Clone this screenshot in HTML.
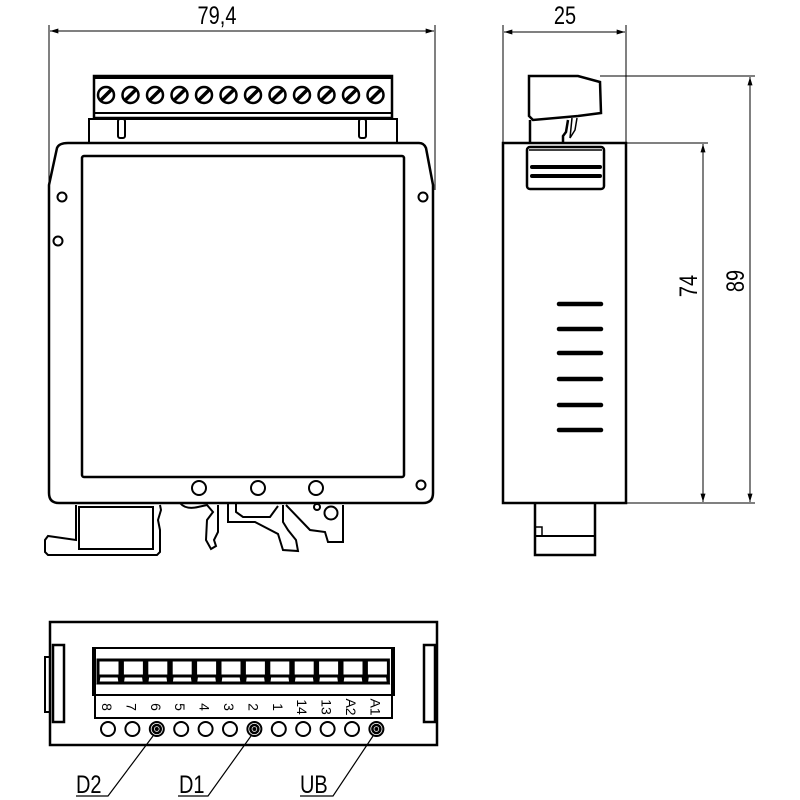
<!DOCTYPE html>
<html><head><style>html,body{margin:0;padding:0;background:#fff}svg{display:block}</style></head>
<body>
<svg width="800" height="800" viewBox="0 0 800 800" xmlns="http://www.w3.org/2000/svg" font-family="Liberation Sans, sans-serif">
<defs>
<marker id="ar" viewBox="0 0 10 6" refX="10" refY="3" markerWidth="12" markerHeight="5" orient="auto-start-reverse" markerUnits="userSpaceOnUse"><path d="M0,0 L10,3 L0,6 z" fill="#000"/></marker>
</defs>
<g fill="none" stroke="#000">
<line x1="49" y1="25" x2="49" y2="190" stroke-width="1"/>
<line x1="435" y1="25" x2="435" y2="190" stroke-width="1"/>
<line x1="50" y1="31" x2="434" y2="31" stroke-width="1" marker-start="url(#ar)" marker-end="url(#ar)"/>
<line x1="503" y1="25" x2="503" y2="143" stroke-width="1"/>
<line x1="626" y1="25" x2="626" y2="143" stroke-width="1"/>
<line x1="504" y1="32" x2="625" y2="32" stroke-width="1" marker-start="url(#ar)" marker-end="url(#ar)"/>
<line x1="600" y1="76" x2="755" y2="76" stroke-width="1"/>
<line x1="626" y1="143" x2="708" y2="143" stroke-width="1"/>
<line x1="626" y1="503" x2="755" y2="503" stroke-width="1"/>
<line x1="750" y1="77" x2="750" y2="502" stroke-width="1" marker-start="url(#ar)" marker-end="url(#ar)"/>
<line x1="703" y1="144" x2="703" y2="502" stroke-width="1" marker-start="url(#ar)" marker-end="url(#ar)"/>

<rect x="94" y="76" width="298" height="42" stroke-width="2.5"/>
<line x1="94" y1="77" x2="392" y2="77" stroke-width="4"/>
<line x1="94" y1="113" x2="392" y2="113" stroke-width="2"/>
<rect x="89" y="119" width="308" height="24" stroke-width="2"/>
<rect x="118" y="119" width="7" height="19" rx="2" stroke-width="2"/>
<rect x="359" y="119" width="7" height="19" rx="2" stroke-width="2"/>
<g stroke-width="2.5">
<circle cx="106" cy="95" r="8"/><circle cx="130.5" cy="95" r="8"/><circle cx="155" cy="95" r="8"/><circle cx="179.5" cy="95" r="8"/><circle cx="204" cy="95" r="8"/><circle cx="228.5" cy="95" r="8"/><circle cx="253" cy="95" r="8"/><circle cx="277.5" cy="95" r="8"/><circle cx="302" cy="95" r="8"/><circle cx="326.5" cy="95" r="8"/><circle cx="351" cy="95" r="8"/><circle cx="375.5" cy="95" r="8"/>
</g>
<g stroke-width="3.5">
<line x1="100" y1="101" x2="112" y2="89"/><line x1="124.5" y1="101" x2="136.5" y2="89"/><line x1="149" y1="101" x2="161" y2="89"/><line x1="173.5" y1="101" x2="185.5" y2="89"/><line x1="198" y1="101" x2="210" y2="89"/><line x1="222.5" y1="101" x2="234.5" y2="89"/><line x1="247" y1="101" x2="259" y2="89"/><line x1="271.5" y1="101" x2="283.5" y2="89"/><line x1="296" y1="101" x2="308" y2="89"/><line x1="320.5" y1="101" x2="332.5" y2="89"/><line x1="345" y1="101" x2="357" y2="89"/><line x1="369.5" y1="101" x2="381.5" y2="89"/>
</g>
<path d="M68,143 L419,143 Q424,143 426,148 L433,185 L433,493 Q433,503 423,503 L59,503 Q49,503 49,493 L49,185 L57,148 Q59,143 68,143 Z" stroke-width="2.5"/>
<rect x="82" y="156" width="322" height="321" rx="2" stroke-width="2.5"/>
<g stroke-width="2">
<circle cx="62" cy="197" r="4.5"/><circle cx="58" cy="241" r="4.5"/><circle cx="423" cy="197" r="4.5"/><circle cx="421" cy="485" r="4.5"/>
<circle cx="199" cy="488" r="7"/><circle cx="258" cy="488" r="7"/><circle cx="316" cy="488" r="7"/>
</g>
<g stroke-width="2">
<path d="M76,505 L76,540 L48,536 L45,540 L45,552 L48,555 L157,555 L160,552 L160,530 L158,520 L161,510 L160,505"/>
<rect x="79" y="507" width="74" height="42"/>
<path d="M180,503 Q186,510 198,507 L207,505 L213,512 L207,520 L206,540 L211,549 L216,546 L214,540 L218,532 L218,505"/>
<path d="M228,504 L228,522 L255,522 L278,534 L283,550 L298,551 L296,540 L288,530 L283,522 L283,505"/>
<path d="M236,504 L236,512 L243,517 L270,517 L278,506"/>
<path d="M286,505 L310,530 L325,532 L328,542 L343,542 L343,505"/>
<circle cx="331" cy="513" r="6.5"/><circle cx="317" cy="507" r="3"/>
</g>

<rect x="503" y="143" width="123" height="360" stroke-width="2.5"/>
<path d="M529,76 L578,76 L600,82 L601,113 L578,116 L533,120 L529,116 Z" stroke-width="2.5"/>
<path d="M530,120 L530,143 M568,120 L566,132 L563,136 L563,143" stroke-width="2.5"/>
<path d="M572,118 L570,138 L575,130 L577,118" stroke-width="1.5"/>
<rect x="527" y="147" width="77" height="42" rx="3" stroke-width="2.5"/>
<line x1="529" y1="150" x2="602" y2="150" stroke-width="1.5"/>
<line x1="532" y1="167" x2="600" y2="167" stroke-width="4" stroke-linecap="round"/>
<line x1="532" y1="176" x2="600" y2="176" stroke-width="4" stroke-linecap="round"/>
<g stroke-width="4.5" stroke-linecap="round">
<line x1="559" y1="304" x2="601" y2="304"/><line x1="559" y1="329" x2="601" y2="329"/><line x1="559" y1="353" x2="601" y2="353"/><line x1="559" y1="379" x2="601" y2="379"/><line x1="559" y1="405" x2="601" y2="405"/><line x1="559" y1="430" x2="601" y2="430"/>
</g>
<path d="M535,503 L535,555 L595,555 L595,503" stroke-width="2.5"/>
<line x1="535" y1="536" x2="595" y2="536" stroke-width="2"/>
<rect x="535" y="527" width="7" height="9" stroke-width="1.5"/>

<rect x="50" y="622" width="387" height="123" stroke-width="2.5"/>
<rect x="53" y="645" width="11" height="77" stroke-width="2.5"/>
<rect x="45" y="657" width="5" height="55" stroke-width="2"/>
<rect x="424" y="645" width="11" height="77" stroke-width="2.5"/>
<rect x="93" y="648" width="301" height="47" stroke-width="2"/>
<rect x="95" y="648" width="297" height="70" stroke-width="2"/>
<line x1="95" y1="695" x2="392" y2="695" stroke-width="2"/>
<g stroke-width="3">
<path d="M98,660 h22 v23 h-22 z M99,676 h20 l1,7 h-22 z"/>
<path d="M122.4,660 h22 v23 h-22 z M123.4,676 h20 l1,7 h-22 z"/>
<path d="M146.8,660 h22 v23 h-22 z M147.8,676 h20 l1,7 h-22 z"/>
<path d="M171.2,660 h22 v23 h-22 z M172.2,676 h20 l1,7 h-22 z"/>
<path d="M195.6,660 h22 v23 h-22 z M196.6,676 h20 l1,7 h-22 z"/>
<path d="M220,660 h22 v23 h-22 z M221,676 h20 l1,7 h-22 z"/>
<path d="M244.4,660 h22 v23 h-22 z M245.4,676 h20 l1,7 h-22 z"/>
<path d="M268.8,660 h22 v23 h-22 z M269.8,676 h20 l1,7 h-22 z"/>
<path d="M293.2,660 h22 v23 h-22 z M294.2,676 h20 l1,7 h-22 z"/>
<path d="M317.6,660 h22 v23 h-22 z M318.6,676 h20 l1,7 h-22 z"/>
<path d="M342,660 h22 v23 h-22 z M343,676 h20 l1,7 h-22 z"/>
<path d="M366.4,660 h22 v23 h-22 z M367.4,676 h20 l1,7 h-22 z"/>
</g>
<g stroke-width="2">
<circle cx="108" cy="729" r="7"/><circle cx="132.4" cy="729" r="7"/><circle cx="156.8" cy="729" r="7"/><circle cx="181.2" cy="729" r="7"/><circle cx="205.6" cy="729" r="7"/><circle cx="230" cy="729" r="7"/><circle cx="254.4" cy="729" r="7"/><circle cx="278.8" cy="729" r="7"/><circle cx="303.2" cy="729" r="7"/><circle cx="327.6" cy="729" r="7"/><circle cx="352" cy="729" r="7"/><circle cx="376.4" cy="729" r="7"/>
</g>
<g stroke-width="2.5"><circle cx="156.8" cy="729" r="4"/><circle cx="254.4" cy="729" r="4"/><circle cx="376.4" cy="729" r="4"/></g>
<circle cx="156.8" cy="729" r="1.5" fill="#000"/><circle cx="254.4" cy="729" r="1.5" fill="#000"/><circle cx="376.4" cy="729" r="1.5" fill="#000"/>
<g stroke-width="1.2">
<path d="M153,736 L108,796 L76,796"/>
<path d="M251,736 L208,796 L178,796"/>
<path d="M373,736 L333,796 L300,796"/>
</g>
</g>
<g fill="#000" font-size="25">
<text transform="translate(217,24) scale(0.8,1)" text-anchor="middle">79,4</text>
<text transform="translate(565,24) scale(0.8,1)" text-anchor="middle">25</text>
<text transform="translate(697,286) rotate(-90) scale(0.8,1)" text-anchor="middle">74</text>
<text transform="translate(744,281) rotate(-90) scale(0.8,1)" text-anchor="middle">89</text>
<text transform="translate(76,793) scale(0.8,1)">D2</text>
<text transform="translate(179,793) scale(0.8,1)">D1</text>
<text transform="translate(300,793) scale(0.8,1)">UB</text>
</g>
<g fill="#000" font-size="14">
<text transform="translate(102,707) rotate(90)" text-anchor="middle">8</text>
<text transform="translate(126.4,707) rotate(90)" text-anchor="middle">7</text>
<text transform="translate(150.8,707) rotate(90)" text-anchor="middle">6</text>
<text transform="translate(175.2,707) rotate(90)" text-anchor="middle">5</text>
<text transform="translate(199.6,707) rotate(90)" text-anchor="middle">4</text>
<text transform="translate(224,707) rotate(90)" text-anchor="middle">3</text>
<text transform="translate(248.4,707) rotate(90)" text-anchor="middle">2</text>
<text transform="translate(272.8,707) rotate(90)" text-anchor="middle">1</text>
<text transform="translate(297.2,707) rotate(90)" text-anchor="middle">14</text>
<text transform="translate(321.6,707) rotate(90)" text-anchor="middle">13</text>
<text transform="translate(346,707) rotate(90)" text-anchor="middle">A2</text>
<text transform="translate(370.4,707) rotate(90)" text-anchor="middle">A1</text>
</g>
</svg>
</body></html>
